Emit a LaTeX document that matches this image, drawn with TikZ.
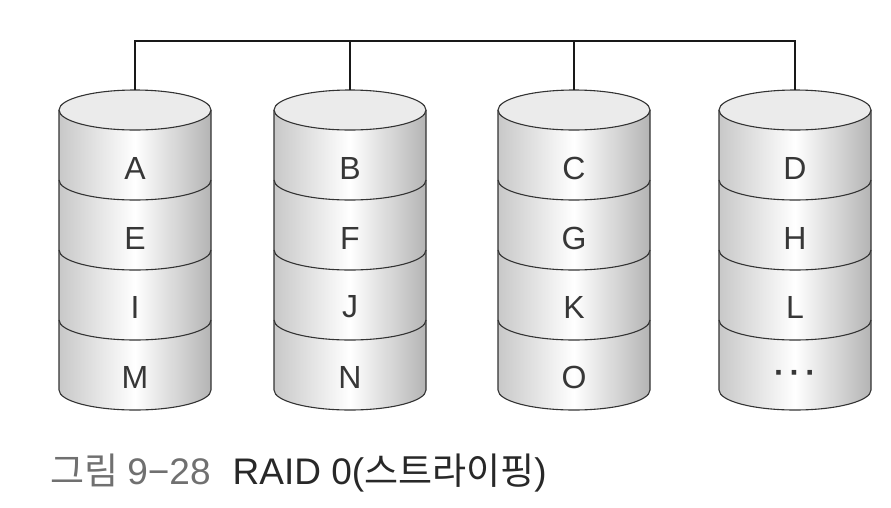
\documentclass[tikz,border=0pt]{standalone}
\usepackage{fontspec}
\setmainfont{Liberation Sans}
\newfontfamily\korfont{Noto Sans CJK KR}

\begin{document}
\begin{tikzpicture}[
    x=1pt, y=-1pt,
    % Estilo del contorno de los discos
    disk line/.style={line width=1.1pt, draw=black!80},
    % Estilo del cuerpo sombreado
    disk body/.style={left color=diskgrey, right color=diskgrey!90!black, middle color=white},
    % Estilo de las letras de los bloques
    disk label/.style={font=\fontsize{32}{32}\selectfont, text=labelgrey, inner sep=0pt},
    % Estilo del bus superior
    bus line/.style={line width=2pt, black!90}
]
    % Colores
    \definecolor{diskgrey}{RGB}{200, 200, 200}
    \definecolor{topgrey}{RGB}{235, 235, 235}
    \definecolor{labelgrey}{RGB}{55, 55, 55}
    \definecolor{capgrey}{RGB}{112, 112, 112}
    \definecolor{capdark}{RGB}{40, 40, 40}

    % Parámetros generales
    \def\rx{76}   % radio horizontal del disco
    \def\ry{20}   % radio vertical de las elipses
    \def\ytop{110} % centro de la elipse superior
    \def\ybot{390} % centro de la elipse inferior
    \def\ybus{41}  % altura del bus

    % Marco fijo del dibujo
    \useasboundingbox (0,0) rectangle (891,507);

    % Bucle para los 4 discos: {índice / centro / bloques}
    \foreach \cx/\la/\lb/\lc/\ld [count=\i] in {
        135/A/E/I/M,
        350/B/F/J/N,
        574/C/G/K/O,
        795/D/H/L/{\raisebox{-5pt}{\textbf{·\kern5pt·\kern5pt·}}}
    }{
        % Cuerpo sombreado
        \shade[disk body] (\cx-\rx,\ytop) -- (\cx-\rx,\ybot)
            arc[start angle=180, end angle=0, x radius=\rx, y radius=\ry]
            -- (\cx+\rx,\ytop) -- cycle;
        \draw[disk line] (\cx-\rx,\ytop) -- (\cx-\rx,\ybot)
            arc[start angle=180, end angle=0, x radius=\rx, y radius=\ry]
            -- (\cx+\rx,\ytop);

        % Separaciones entre bloques
        \foreach \yd in {180,250,320}{
            \draw[disk line] (\cx-\rx,\yd)
                arc[start angle=180, end angle=0, x radius=\rx, y radius=\ry];
        }

        % Tapa superior
        \filldraw[disk line, fill=topgrey] (\cx,\ytop) ellipse[x radius=\rx, y radius=\ry];

        % Bloques
        \node[disk label] (blk\i a) at (\cx,168) {\la};
        \node[disk label] (blk\i b) at (\cx,238) {\lb};
        \node[disk label] (blk\i c) at (\cx,307) {\lc};
        \node[disk label] (blk\i d) at (\cx,377) {\ld};

        % Puntos de conexión
        \coordinate (top\i) at (\cx,\ytop-\ry);
        \coordinate (bus\i) at (\cx,\ybus);
    }

    % Bus de conexión
    \draw[bus line] (top1) -- (bus1) -- (bus4) -- (top4);
    \draw[bus line] (bus2) -- (top2);
    \draw[bus line] (bus3) -- (top3);

    % Leyenda
    \node[anchor=base west, inner sep=0pt, font=\fontsize{37}{37}\selectfont] (caption) at (50,484)
        {\textcolor{capgrey}{{\korfont 그림}\hspace{9pt}9−28}\hspace{22pt}\textcolor{capdark}{RAID 0({\korfont 스트라이핑})}};
\end{tikzpicture}
\end{document}
